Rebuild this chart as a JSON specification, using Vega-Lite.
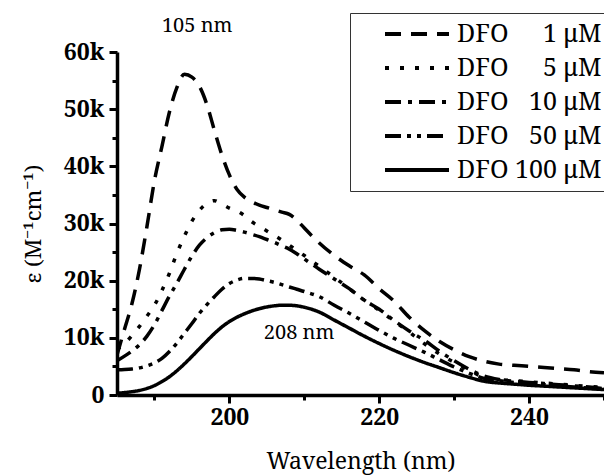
{
  "$schema": "https://vega.github.io/schema/vega-lite/v6.json",
  "width": 487,
  "height": 343,
  "autosize": {"type": "none"},
  "padding": {"left": 117, "top": 52, "right": 0, "bottom": 80},
  "background": "white",
  "config": {"view": {"stroke": null}, "font": "Noto Serif, DejaVu Serif, serif"},
  "datasets": {
    "spectra": [
      {"wl": 185, "1": 7000, "5": 8000, "10": 6000, "50": 4400, "100": 300},
      {"wl": 186, "1": 11500, "5": 9000, "10": 6800, "50": 4450, "100": 420},
      {"wl": 187, "1": 16000, "5": 10400, "10": 7700, "50": 4550, "100": 580},
      {"wl": 188, "1": 22000, "5": 12000, "10": 8800, "50": 4750, "100": 800},
      {"wl": 189, "1": 29500, "5": 13800, "10": 10300, "50": 5100, "100": 1150},
      {"wl": 190, "1": 37500, "5": 15700, "10": 12300, "50": 5600, "100": 1650},
      {"wl": 191, "1": 43500, "5": 18300, "10": 14800, "50": 6400, "100": 2350},
      {"wl": 192, "1": 49500, "5": 21300, "10": 17300, "50": 7600, "100": 3200},
      {"wl": 193, "1": 53800, "5": 24800, "10": 19600, "50": 9100, "100": 4250},
      {"wl": 194, "1": 56100, "5": 27800, "10": 22000, "50": 10800, "100": 5450},
      {"wl": 195, "1": 55600, "5": 30400, "10": 24300, "50": 12500, "100": 6750},
      {"wl": 196, "1": 54000, "5": 32300, "10": 26200, "50": 14300, "100": 8100},
      {"wl": 197, "1": 50800, "5": 33500, "10": 27500, "50": 15800, "100": 9450},
      {"wl": 198, "1": 46300, "5": 34000, "10": 28400, "50": 17200, "100": 10750},
      {"wl": 199, "1": 42000, "5": 33400, "10": 28900, "50": 18500, "100": 11900},
      {"wl": 200, "1": 38500, "5": 32700, "10": 29000, "50": 19500, "100": 12850},
      {"wl": 201, "1": 36000, "5": 32200, "10": 28800, "50": 20100, "100": 13600},
      {"wl": 202, "1": 34600, "5": 31400, "10": 28500, "50": 20400, "100": 14200},
      {"wl": 203, "1": 33800, "5": 30300, "10": 28100, "50": 20400, "100": 14700},
      {"wl": 204, "1": 33200, "5": 29500, "10": 27700, "50": 20300, "100": 15100},
      {"wl": 205, "1": 32800, "5": 28700, "10": 27200, "50": 20000, "100": 15400},
      {"wl": 206, "1": 32400, "5": 27900, "10": 26700, "50": 19700, "100": 15600},
      {"wl": 207, "1": 32000, "5": 27100, "10": 26100, "50": 19300, "100": 15700},
      {"wl": 208, "1": 31600, "5": 26200, "10": 25500, "50": 18900, "100": 15700},
      {"wl": 209, "1": 30600, "5": 25300, "10": 24700, "50": 18500, "100": 15600},
      {"wl": 210, "1": 29200, "5": 24400, "10": 23800, "50": 18100, "100": 15350},
      {"wl": 212, "1": 26600, "5": 22500, "10": 22000, "50": 17200, "100": 14500},
      {"wl": 214, "1": 24400, "5": 20600, "10": 20300, "50": 15700, "100": 13100},
      {"wl": 216, "1": 22600, "5": 18600, "10": 18600, "50": 14300, "100": 11700},
      {"wl": 218, "1": 21000, "5": 16600, "10": 16600, "50": 12800, "100": 10300},
      {"wl": 220, "1": 18600, "5": 14800, "10": 15000, "50": 11300, "100": 9000},
      {"wl": 222, "1": 16400, "5": 12900, "10": 13000, "50": 9900, "100": 7800},
      {"wl": 224, "1": 13600, "5": 11000, "10": 11200, "50": 8700, "100": 6700},
      {"wl": 226, "1": 11300, "5": 9000, "10": 9600, "50": 7500, "100": 5700},
      {"wl": 228, "1": 9400, "5": 7200, "10": 7700, "50": 6200, "100": 4800},
      {"wl": 230, "1": 7900, "5": 5700, "10": 6000, "50": 4900, "100": 3900},
      {"wl": 232, "1": 6700, "5": 4300, "10": 4500, "50": 3800, "100": 3100},
      {"wl": 234, "1": 5900, "5": 3100, "10": 3300, "50": 2900, "100": 2400},
      {"wl": 236, "1": 5400, "5": 2700, "10": 2700, "50": 2500, "100": 2100},
      {"wl": 238, "1": 5200, "5": 2500, "10": 2400, "50": 2200, "100": 1900},
      {"wl": 240, "1": 5000, "5": 2300, "10": 2200, "50": 2000, "100": 1700},
      {"wl": 242, "1": 4800, "5": 2100, "10": 2000, "50": 1800, "100": 1550},
      {"wl": 244, "1": 4600, "5": 1900, "10": 1800, "50": 1600, "100": 1400},
      {"wl": 246, "1": 4400, "5": 1700, "10": 1600, "50": 1400, "100": 1250},
      {"wl": 248, "1": 4100, "5": 1500, "10": 1400, "50": 1200, "100": 1100},
      {"wl": 250, "1": 3900, "5": 1300, "10": 1100, "50": 1000, "100": 950}
    ],
    "notes": [
      {"wl": 195.7, "eps": 64500, "label": "105 nm"},
      {"wl": 209.3, "eps": 10800, "label": "208 nm"}
    ]
  },
  "encoding": {
    "x": {
      "field": "wl",
      "type": "quantitative",
      "scale": {"domain": [185, 250], "nice": false, "zero": false},
      "axis": {
        "title": "Wavelength (nm)",
        "values": [190, 200, 210, 220, 230, 240, 250],
        "labelExpr": "datum.value % 20 === 0 ? datum.label : ''",
        "tickSize": {"condition": {"test": "datum.value % 20 === 0", "value": 8}, "value": 5},
        "tickWidth": 3,
        "tickColor": "black",
        "domainColor": "black",
        "domainWidth": 3.5,
        "grid": false,
        "labelFontWeight": "bold",
        "labelFontSize": 23,
        "labelColor": "black",
        "labelPadding": 3,
        "titleFontWeight": "normal",
        "titleFontSize": 23,
        "titleColor": "black",
        "titlePadding": 21
      }
    },
    "y": {
      "field": "eps",
      "type": "quantitative",
      "scale": {"domain": [0, 60000], "nice": false},
      "axis": {
        "title": "ε (M⁻¹cm⁻¹)",
        "values": [0, 5000, 10000, 15000, 20000, 25000, 30000, 35000, 40000, 45000, 50000, 55000, 60000],
        "labelExpr": "datum.value % 10000 === 0 ? (datum.value === 0 ? '0' : (datum.value / 1000) + 'k') : ''",
        "tickSize": {"condition": {"test": "datum.value % 10000 === 0", "value": 8}, "value": 5},
        "tickWidth": 3,
        "tickColor": "black",
        "domainColor": "black",
        "domainWidth": 3.5,
        "grid": false,
        "labelFontWeight": "bold",
        "labelFontSize": 23,
        "labelColor": "black",
        "labelPadding": 5,
        "titleFontWeight": "normal",
        "titleFontSize": 22,
        "titleColor": "black",
        "titlePadding": 18
      }
    }
  },
  "layer": [
    {
      "data": {"name": "spectra"},
      "transform": [{"fold": ["1", "5", "10", "50", "100"], "as": ["conc", "eps"]}],
      "mark": {"type": "line", "strokeWidth": 3.5, "color": "black", "interpolate": "monotone", "clip": true},
      "encoding": {
        "strokeDash": {
          "field": "conc",
          "type": "nominal",
          "scale": {
            "domain": ["1", "5", "10", "50", "100"],
            "range": [[16, 10], [4, 11], [16, 7, 4, 7], [16, 6, 4, 6, 4, 6], [1, 0]]
          },
          "legend": {
            "title": null,
            "orient": "none",
            "legendX": 233,
            "legendY": -39,
            "symbolType": "M-3,0H3",
            "symbolSize": 455,
            "symbolStrokeWidth": 4,
            "symbolStrokeColor": "black",
            "symbolFillColor": "transparent",
            "symbolOffset": 46,
            "labelFontSize": 25,
            "labelColor": "black",
            "labelOffset": 27,
            "labelLimit": 300,
            "rowPadding": 8,
            "padding": 8,
            "strokeColor": "#333",
            "labelExpr": "'DFO\u00a0' + (datum.label === '1' || datum.label === '5' ? '\u2007\u2007' : (datum.label === '100' ? '' : '\u2007')) + datum.label + '\u00a0μM'"
          }
        }
      }
    },
    {
      "data": {"name": "notes"},
      "mark": {"type": "text", "fontSize": 20, "color": "black"},
      "encoding": {"text": {"field": "label"}}
    }
  ]
}
